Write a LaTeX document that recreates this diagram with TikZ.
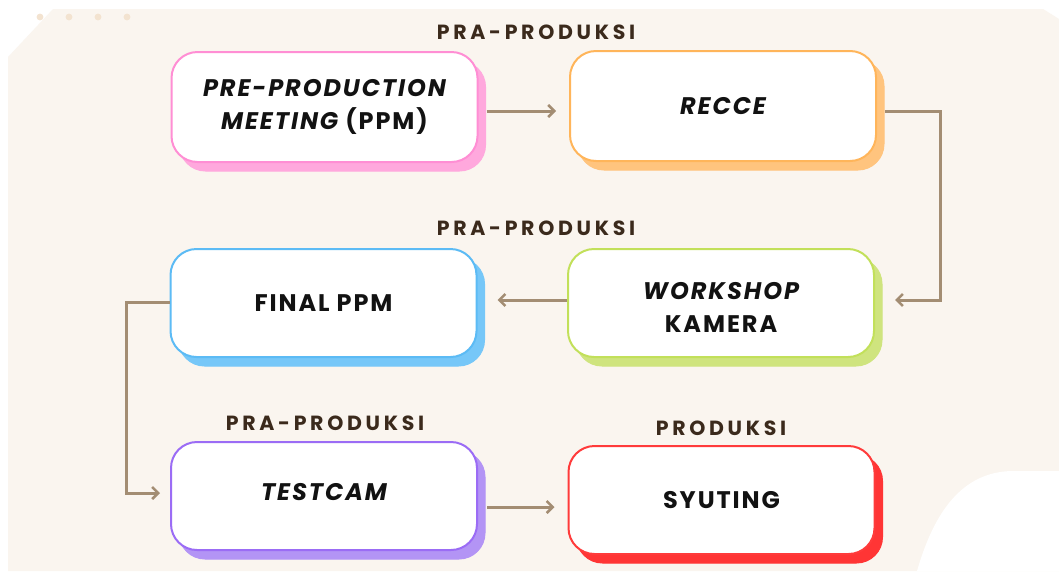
\documentclass[tikz,border=0pt]{standalone}
\usepackage{fontspec}
\usetikzlibrary{arrows.meta,shadows}
\newfontfamily\boxfont{Poppins}[LetterSpace=8]
\newfontfamily\tagfont{Poppins}[LetterSpace=18]

\definecolor{paper}{HTML}{FAF5EF}
\definecolor{dotc}{HTML}{F3E3D0}
\definecolor{linkc}{HTML}{A38D73}
\definecolor{tagc}{HTML}{3B2A1C}
\definecolor{pinkB}{HTML}{FF8ED4}\definecolor{pinkS}{HTML}{FFA8DD}
\definecolor{orangeB}{HTML}{FFB55A}\definecolor{orangeS}{HTML}{FFC47E}
\definecolor{blueB}{HTML}{5CBBF5}\definecolor{blueS}{HTML}{76C7F8}
\definecolor{greenB}{HTML}{C2E05A}\definecolor{greenS}{HTML}{CFE47E}
\definecolor{purpleB}{HTML}{9B6CF5}\definecolor{purpleS}{HTML}{B394F5}
\definecolor{redB}{HTML}{FF3B3B}\definecolor{redS}{HTML}{FF3535}

\tikzset{
  stepbox/.style 2 args={draw=#1, fill=white, line width=2pt,
    rounded corners=26pt, minimum width=306pt, minimum height=108pt,
    align=center, text=black!93,
    font=\boxfont\bfseries\fontsize{24}{33}\selectfont,
    copy shadow={shadow xshift=8pt, shadow yshift=-9pt, fill=#2, draw=#2, line width=1pt}},
  tag/.style={text=tagc, font=\tagfont\bfseries\fontsize{20.5}{22}\selectfont},
  conn/.style={draw=linkc, line width=3pt,
    -{Straight Barb[length=6pt,width=12pt,line width=2.6pt]}},
}

\begin{document}
\begin{tikzpicture}[x=1pt,y=-1pt]
  \useasboundingbox (0,0) rectangle (1059,571);
  \fill[white] (0,0) rectangle (1059,571);
  % paper backdrop with clipped corners
  \fill[paper] (8,57) -- (53,9) -- (1043,9) -- (1059,19) -- (1059,571) -- (8,571) -- cycle;
  \fill[white] (917,571) .. controls (934,512) and (962,472) .. (1012,471) -- (1059,471) -- (1059,571) -- cycle;
  % decorative dots
  \foreach \dx in {40,69,98,127} \fill[dotc] (\dx,17) circle (3.4);

  % phase tags
  \node[tag] (t1) at (536,32) {PRA-PRODUKSI};
  \node[tag] (t2) at (536,228) {PRA-PRODUKSI};
  \node[tag] (t3) at (325,423) {PRA-PRODUKSI};
  \node[tag] (t4) at (721,428) {PRODUKSI};

  % steps
  \node[stepbox={pinkB}{pinkS}, minimum height=110pt] (ppm) at (324.5,107)
    {\itshape PRE-PRODUCTION\\\itshape MEETING\upshape{} (PPM)};
  \node[stepbox={orangeB}{orangeS}, minimum height=110pt] (recce) at (723,106) {\itshape RECCE};
  \node[stepbox={blueB}{blueS}] (final) at (323.5,303) {FINAL PPM};
  \node[stepbox={greenB}{greenS}] (workshop) at (721,303) {\rule{0pt}{25pt}\itshape WORKSHOP\\KAMERA};
  \node[stepbox={purpleB}{purpleS}, text depth=8pt] (testcam) at (324,496) {\itshape TESTCAM};
  \node[stepbox={redB}{redS}] (syuting) at (721.5,500) {SYUTING};

  % flow
  \draw[conn] ([shift={(8,4)}]ppm.east) -- ([shift={(-13,5)}]recce.west);
  \draw[conn] ([shift={(8,5)}]recce.east) -- ++(55,0) |- ([shift={(20,-3)}]workshop.east);
  \draw[conn] ([shift={(0,-3)}]workshop.west) -- ([shift={(20,-3)}]final.east);
  \draw[conn] ([shift={(0,-1)}]final.west) -- ++(-43,0) |- ([shift={(-10,-3)}]testcam.west);
  \draw[conn] ([shift={(9,11)}]testcam.east) -- ([shift={(-13,7)}]syuting.west);
\end{tikzpicture}
\end{document}
